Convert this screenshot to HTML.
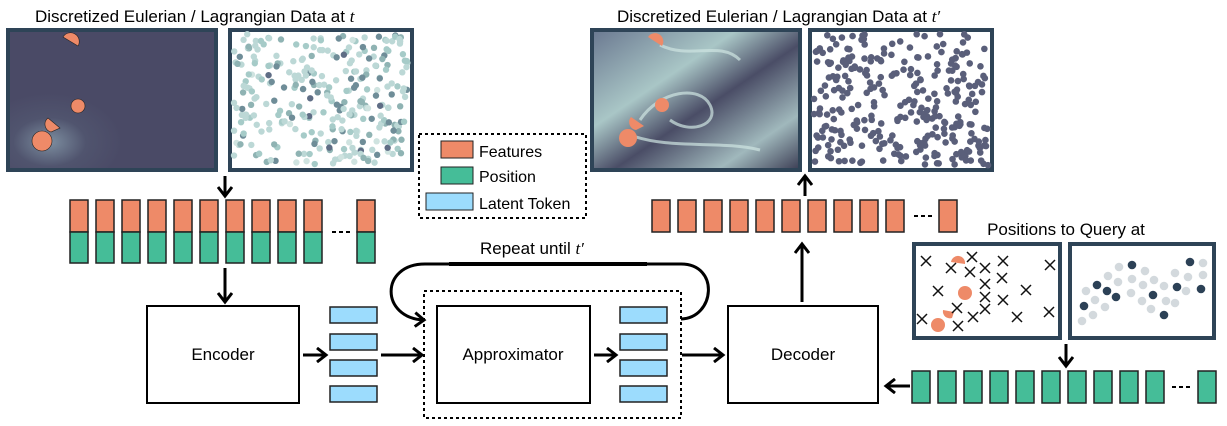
<!DOCTYPE html>
<html><head><meta charset="utf-8"><style>
html,body{margin:0;padding:0;background:#fff;width:1227px;height:426px;overflow:hidden}
svg{display:block}
text{font-family:"Liberation Sans",sans-serif;fill:#000}
</style></head><body>
<svg id="s" width="1227" height="426" viewBox="0 0 1227 426" xmlns="http://www.w3.org/2000/svg">
<defs>
<radialGradient id="g1" cx="0.2" cy="0.8" r="0.35"><stop offset="0" stop-color="#7d8ea0"/><stop offset="0.5" stop-color="#50546e"/><stop offset="1" stop-color="#4a4a66"/></radialGradient>
<linearGradient id="g2" x1="0" y1="0" x2="1" y2="1"><stop offset="0" stop-color="#6a7890"/><stop offset="0.35" stop-color="#a9c6c6"/><stop offset="0.55" stop-color="#4a4d66"/><stop offset="0.8" stop-color="#a0b8bc"/><stop offset="1" stop-color="#3a3b52"/></linearGradient>
<marker id="ah" markerWidth="14" markerHeight="16" refX="10" refY="8" orient="auto" markerUnits="userSpaceOnUse"><path d="M1,1 L10,8 L1,15" fill="none" stroke="#000" stroke-width="3"/></marker>
</defs>
<g font-size="17">
<text x="35" y="22">Discretized Eulerian / Lagrangian Data at <tspan font-family="Liberation Serif" font-style="italic">t</tspan></text>
<text x="617" y="22">Discretized Eulerian / Lagrangian Data at <tspan font-family="Liberation Serif" font-style="italic">t′</tspan></text>
</g>
<rect x="8" y="30" width="208" height="140" fill="url(#g1)" stroke="#2e4457" stroke-width="4"/>
<g fill="#ee8a68" stroke="#222" stroke-width="0.6">
<path d="M63,37 A8,8 0 0 1 78,46 Z"/>
<circle cx="78" cy="106" r="7"/><path d="M48,118 A8,8 0 0 0 51,132 L60,128 Z"/><circle cx="42" cy="141" r="10"/>
</g>
<rect x="230" y="30" width="182" height="140" fill="#fff" stroke="#2e4457" stroke-width="4"/>
<g id="p1"></g>
<rect x="592" y="30" width="208" height="140" fill="url(#g2)" stroke="#2e4457" stroke-width="4"/>
<g fill="none" stroke="#cfe5e2" stroke-width="3" opacity="0.7">
<path d="M640,120 C660,90 700,85 710,105 C720,125 690,135 670,120"/><path d="M630,135 C670,150 720,140 760,150"/><path d="M660,45 C690,60 720,40 740,60"/>
</g>
<g fill="#ee8a68"><path d="M648,37 A8,8 0 0 1 662,46 Z"/><circle cx="662" cy="105" r="7"/><path d="M631,117 A8,8 0 0 0 636,130 L644,126 Z"/><circle cx="628" cy="138" r="9"/></g>
<rect x="810" y="30" width="182" height="140" fill="#fff" stroke="#2e4457" stroke-width="4"/>
<g id="p2"></g>
<rect x="419" y="134" width="167" height="84" fill="none" stroke="#000" stroke-width="2" stroke-dasharray="3,3"/>
<rect x="441" y="141" width="32" height="17" fill="#ee8a68" stroke="#222"/>
<rect x="441" y="167" width="32" height="17" fill="#45bd98" stroke="#222"/>
<rect x="426" y="193" width="47" height="17" fill="#9cdcfd" stroke="#222"/>
<g font-size="16"><text x="479" y="157">Features</text><text x="479" y="182">Position</text><text x="479" y="209">Latent Token</text></g>
<g id="tok"></g>
<g stroke="#000" stroke-width="3" fill="none" marker-end="url(#ah)">
<line x1="225" y1="176" x2="225" y2="196"/>
<line x1="225" y1="268" x2="225" y2="302"/>
<line x1="303" y1="355" x2="326" y2="355"/>
<line x1="381" y1="355" x2="422" y2="355"/>
<line x1="594" y1="355" x2="616" y2="355"/>
<line x1="682" y1="355" x2="723" y2="355"/>
<line x1="802" y1="302" x2="802" y2="244"/>
<line x1="805" y1="196" x2="805" y2="176"/>
<line x1="1066" y1="344" x2="1066" y2="366"/>
<line x1="910" y1="386" x2="886" y2="386"/>
<path d="M681,319 C715,318 720,264 681,264 L425,264 C380,264 380,318 424,320"/>
</g>
<line x1="449" y1="264" x2="647" y2="264" stroke="#000" stroke-width="4"/>
<text x="480" y="254" font-size="17">Repeat until <tspan font-family="Liberation Serif" font-style="italic">t′</tspan></text>
<rect x="147" y="306" width="152" height="97" fill="#fff" stroke="#000" stroke-width="2"/>
<text x="223" y="360" font-size="17" text-anchor="middle">Encoder</text>
<rect x="424" y="291" width="257" height="127" fill="none" stroke="#000" stroke-width="2" stroke-dasharray="3,3"/>
<rect x="437" y="306" width="153" height="97" fill="#fff" stroke="#000" stroke-width="2"/>
<text x="513" y="360" font-size="17" text-anchor="middle">Approximator</text>
<rect x="728" y="306" width="150" height="97" fill="#fff" stroke="#000" stroke-width="2"/>
<text x="803" y="360" font-size="17" text-anchor="middle">Decoder</text>
<text x="1066" y="235" font-size="17" text-anchor="middle">Positions to Query at</text>
<rect x="914" y="244" width="146" height="94" fill="#fff" stroke="#2e4457" stroke-width="4"/>
<rect x="1070" y="244" width="144" height="94" fill="#fff" stroke="#2e4457" stroke-width="4"/>
<g fill="#ee8a68"><path d="M951,262 A7,7 0 0 1 965,264 Z"/><circle cx="965" cy="293" r="7"/><path d="M943,310 A7,7 0 0 0 952,318 L954,312 Z"/><circle cx="938" cy="325" r="7"/></g>
<g id="xs" stroke="#111" stroke-width="1.5"></g>
<g id="p3"></g>
</svg>
<script>
var NS="http://www.w3.org/2000/svg";
function el(p,t,a){var e=document.createElementNS(NS,t);for(var k in a)e.setAttribute(k,a[k]);document.getElementById(p).appendChild(e);return e;}
var seed=7;function r(){seed=(seed*16807)%2147483647;return seed/2147483647;}
var cols=["#bcd8d6","#a6cbc8","#8fb3b3","#6f8d98","#cfe3e0","#5f6d85"];
for(var i=0;i<300;i++){var x=234+r()*174,y=34+r()*132;el('p1','circle',{cx:x,cy:y,r:3.2,fill:cols[Math.floor(r()*r()*6)]});}
for(var i=0;i<300;i++){var x=814+r()*174,y=34+r()*132;el('p2','circle',{cx:x,cy:y,r:3.3,fill:"#5a5f7a"});}
var xs=[[926,261],[951,268],[972,257],[985,268],[1003,261],[1050,265],[970,272],[985,284],[1002,278],[938,291],[985,297],[1003,300],[1026,290],[957,308],[985,309],[922,319],[958,326],[973,317],[1017,317],[1049,312]];
xs.forEach(function(p){el('xs','path',{d:"M"+(p[0]-5)+","+(p[1]-5)+"l10,10M"+(p[0]+5)+","+(p[1]-5)+"l-10,10"});});
var dark=[[1132,265],[1097,285],[1107,291],[1116,297],[1084,306],[1153,295],[1164,315],[1177,287],[1190,262],[1201,289]];
var light=[[1082,321],[1093,315],[1086,291],[1095,300],[1105,307],[1108,276],[1118,282],[1119,267],[1132,279],[1143,285],[1145,271],[1154,280],[1131,293],[1142,301],[1151,309],[1164,286],[1166,301],[1175,303],[1175,273],[1186,291],[1188,277],[1203,263],[1203,275]];
light.forEach(function(p){el('p3','circle',{cx:p[0],cy:p[1],r:4.3,fill:"#d3d9dd"});});
dark.forEach(function(p){el('p3','circle',{cx:p[0],cy:p[1],r:4.3,fill:"#2c4156"});});
function tk(x,y,h,c){el('tok','rect',{x:x,y:y,width:18,height:h,fill:c,stroke:"#222","stroke-width":1.5});}
for(var i=0;i<11;i++){var x=i<10?70+i*26:357;tk(x,200,32,"#ee8a68");tk(x,232,31,"#45bd98");}
el('tok','line',{x1:332,y1:232,x2:350,y2:232,stroke:"#000","stroke-width":2,"stroke-dasharray":"4,3"});
for(var i=0;i<11;i++){var x=i<10?652+i*26:939;tk(x,200,32,"#ee8a68");}
el('tok','line',{x1:914,y1:216,x2:934,y2:216,stroke:"#000","stroke-width":2,"stroke-dasharray":"4,3"});
for(var i=0;i<11;i++){var x=i<10?912+i*26:1198;tk(x,371,32,"#45bd98");}
el('tok','line',{x1:1172,y1:387,x2:1192,y2:387,stroke:"#000","stroke-width":2,"stroke-dasharray":"4,3"});
[307,334,360,386].forEach(function(y){el('tok','rect',{x:330,y:y,width:47,height:16,fill:"#9cdcfd",stroke:"#222","stroke-width":1.5});el('tok','rect',{x:620,y:y,width:47,height:16,fill:"#9cdcfd",stroke:"#222","stroke-width":1.5});});
</script>
</body></html>
